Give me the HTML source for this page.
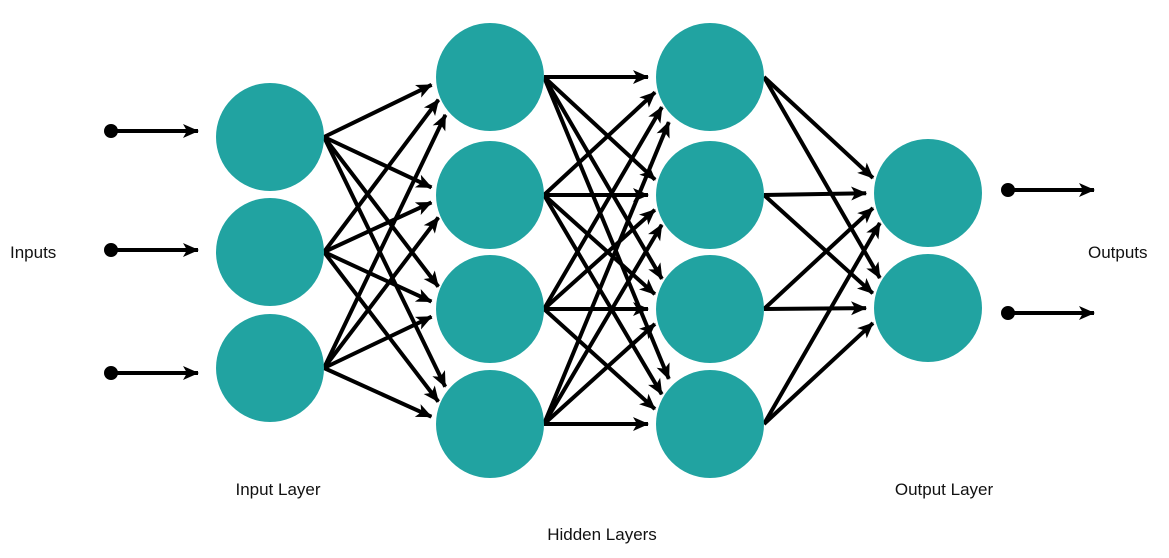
<!DOCTYPE html>
<html><head><meta charset="utf-8"><style>
html,body{margin:0;padding:0;background:#fff;width:1169px;height:558px;overflow:hidden}
svg text{font-family:"Liberation Sans",sans-serif;font-size:17px;fill:#111}
</style></head><body>
<svg id="s" width="1169" height="558" viewBox="0 0 1169 558" xmlns="http://www.w3.org/2000/svg">
<defs><marker id="a" markerWidth="18" markerHeight="16" refX="16" refY="8" orient="auto" markerUnits="userSpaceOnUse"><path d="M1,1 L17,8 L1,15 L5,8 Z" fill="#000"/></marker></defs>
<g id="lines" stroke="#000" stroke-width="4" fill="none"></g>
<g id="nodes" fill="#21a3a1"></g>
<text x="10" y="258">Inputs</text>
<text x="1088" y="258">Outputs</text>
<text x="278" y="495" text-anchor="middle">Input Layer</text>
<text x="602" y="540" text-anchor="middle">Hidden Layers</text>
<text x="944" y="495" text-anchor="middle">Output Layer</text>
</svg>
<script>
var NS="http://www.w3.org/2000/svg";
var L=[[270,[137,252,368]],[490,[77,195,309,424]],[710,[77,195,309,424]],[928,[193,308]]];
var R=54,lg=document.getElementById('lines'),ng=document.getElementById('nodes');
function line(x1,y1,x2,y2,m){var l=document.createElementNS(NS,'line');l.setAttribute('x1',x1);l.setAttribute('y1',y1);l.setAttribute('x2',x2);l.setAttribute('y2',y2);if(m)l.setAttribute('marker-end','url(#a)');lg.appendChild(l);}
function dot(x,y){var c=document.createElementNS(NS,'circle');c.setAttribute('cx',x);c.setAttribute('cy',y);c.setAttribute('r',5);c.setAttribute('fill','#000');lg.appendChild(c);}
for(var i=0;i<3;i++){var a=L[i],b=L[i+1];
 a[1].forEach(function(sy){var sx=a[0]+R;
  b[1].forEach(function(ty){var dy=sy-ty;
   line(sx,sy,b[0]-62+Math.abs(dy)*0.06,ty+dy*0.13,true);});});}
[131,250,373].forEach(function(y){dot(111,y);line(111,y,198,y,true);});
[190,313].forEach(function(y){dot(1008,y);line(1008,y,1094,y,true);});
L.forEach(function(l){l[1].forEach(function(y){var c=document.createElementNS(NS,'circle');c.setAttribute('cx',l[0]);c.setAttribute('cy',y);c.setAttribute('r',R);ng.appendChild(c);});});
</script>
</body></html>
